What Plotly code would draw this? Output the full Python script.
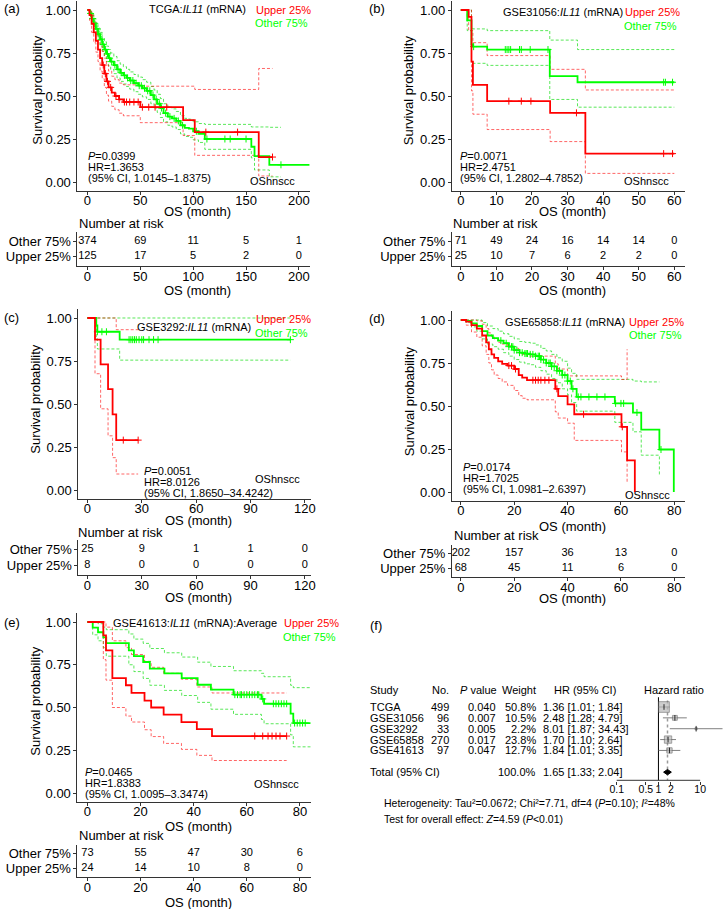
import plotly.graph_objects as go

W, H = 728, 909
FONT = "Liberation Sans, Arial, sans-serif"
RED, GREEN = "#FF0000", "#00FF00"
RED_CI, GREEN_CI = "rgba(255,0,0,0.6)", "rgba(0,220,0,0.65)"

# ---------------- data: (a) TCGA ----------------
A_RED_T = [0, 2, 4, 6, 8, 10, 12, 14, 16, 18, 20, 23, 26, 30, 34, 50, 90.5, 101.5, 162, 175]
A_RED_S = [1.0, 0.97, 0.92, 0.87, 0.82, 0.77, 0.72, 0.68, 0.63, 0.585, 0.55, 0.52, 0.50, 0.48, 0.465, 0.435, 0.36, 0.29, 0.145, 0.145]
A_RED_U = [1.0, 1.0, 0.97, 0.93, 0.89, 0.85, 0.80, 0.76, 0.72, 0.68, 0.645, 0.615, 0.595, 0.575, 0.565, 0.557, 0.557, 0.538, 0.66, 0.66]
A_RED_L = [1.0, 0.94, 0.87, 0.81, 0.755, 0.70, 0.645, 0.60, 0.55, 0.505, 0.47, 0.44, 0.42, 0.40, 0.385, 0.345, 0.27, 0.155, 0.035, 0.035]
A_RED_C = [15, 17, 19, 22, 27, 30, 35, 37, 40, 44, 48, 52, 58, 64, 75, 112, 142, 175]
A_GRN_T = [0, 2, 4, 6, 8, 10, 12, 14, 16, 18, 20, 22, 25, 28, 31, 34, 37, 40, 44, 48, 52, 56, 60, 63, 66, 69, 72, 76, 80, 84, 88, 92, 96, 100, 105, 111, 155, 158, 172, 183, 210]
A_GRN_S = [1.0, 0.98, 0.95, 0.92, 0.89, 0.86, 0.83, 0.80, 0.77, 0.745, 0.72, 0.70, 0.68, 0.655, 0.635, 0.62, 0.605, 0.59, 0.575, 0.56, 0.545, 0.53, 0.505, 0.48, 0.455, 0.43, 0.40, 0.38, 0.37, 0.355, 0.33, 0.315, 0.31, 0.295, 0.28, 0.25, 0.205, 0.15, 0.10, 0.10, 0.10]
A_GRN_U = [1.0, 0.995, 0.975, 0.95, 0.925, 0.895, 0.87, 0.84, 0.815, 0.79, 0.77, 0.75, 0.73, 0.705, 0.685, 0.67, 0.655, 0.64, 0.625, 0.61, 0.595, 0.58, 0.555, 0.535, 0.51, 0.485, 0.455, 0.435, 0.425, 0.41, 0.385, 0.37, 0.365, 0.35, 0.34, 0.335, 0.32, 0.32, 0.318, 0.318, None]
A_GRN_L = [1.0, 0.965, 0.925, 0.89, 0.855, 0.825, 0.79, 0.76, 0.73, 0.70, 0.675, 0.655, 0.63, 0.605, 0.585, 0.57, 0.555, 0.54, 0.525, 0.51, 0.495, 0.48, 0.455, 0.43, 0.405, 0.375, 0.35, 0.33, 0.32, 0.305, 0.28, 0.265, 0.26, 0.245, 0.23, 0.19, 0.14, 0.07, 0.03, 0.03, None]
A_GRN_C = [3, 5, 7, 9, 11, 13, 15, 17, 19, 21, 23, 26, 29, 32, 35, 38, 41, 43, 46, 49, 51, 54, 57, 59, 62, 65, 68, 70, 74, 78, 82, 86, 90, 103, 113, 130, 135, 150, 183]

# ---------------- (b) GSE31056 ----------------
B_RED_T = [0, 2.2, 3.0, 3.4, 7.4, 25.1, 35.0, 60]
B_RED_S = [1.0, 0.96, 0.70, 0.565, 0.47, 0.402, 0.165, 0.165]
B_RED_U = [1.0, 1.0, 0.88, 0.81, 0.735, 0.655, 0.535, 0.535]
B_RED_L = [1.0, 0.88, 0.53, 0.394, 0.305, 0.235, 0.05, 0.05]
B_RED_C = [13.5, 17, 19.7, 32.5, 57, 59.5]
B_GRN_T = [0, 1.8, 3.0, 3.4, 7.4, 25.0, 32.8, 60]
B_GRN_S = [1.0, 0.94, 0.80, 0.787, 0.77, 0.615, 0.58, 0.58]
B_GRN_U = [1.0, 1.0, 0.893, 0.89, 0.88, 0.825, 0.77, 0.77]
B_GRN_L = [1.0, 0.88, 0.70, 0.69, 0.678, 0.48, 0.435, 0.435]
B_GRN_C = [3.6, 12.5, 13, 13.5, 14, 16.5, 17, 19.5, 24.5, 57, 57.5, 59.5]

# ---------------- (c) GSE3292 ----------------
C_RED_T = [0, 4.2, 7.3, 11.4, 13.9, 15.9, 28]
C_RED_S = [1.0, 0.874, 0.73, 0.586, 0.44, 0.29, 0.29]
C_RED_U = [1.0, 1.0, 1.0, 1.0, 1.0, 0.932, 0.932]
C_RED_L = [1.0, 0.676, 0.472, 0.315, 0.188, 0.093, 0.093]
C_RED_C = [19.8, 28]
C_GRN_T = [0, 4.9, 5.5, 17.8, 112]
C_GRN_S = [1.0, 0.957, 0.92, 0.874, 0.874]
C_GRN_U = [1.0, 1.0, 1.0, 1.0, 1.0]
C_GRN_L = [1.0, 0.88, 0.82, 0.755, 0.755]
C_GRN_C = [5.5, 8, 10.5, 23, 24, 25, 26, 27, 28.5, 30, 31, 34, 36.5, 39, 112]

# ---------------- (d) GSE65858 ----------------
D_RED_T = [0, 2, 4, 6, 8, 9.5, 10.5, 11.5, 12.5, 14, 15.5, 17.5, 20, 21.7, 23, 24.8, 35.4, 36.5, 40, 42.5, 60.2, 62.3, 65.2]
D_RED_S = [1.0, 0.99, 0.97, 0.95, 0.91, 0.87, 0.83, 0.80, 0.78, 0.76, 0.745, 0.735, 0.715, 0.68, 0.665, 0.65, 0.60, 0.557, 0.51, 0.452, 0.379, 0.184, 0.0]
D_RED_U = [1.0, 1.0, 1.0, 0.995, 0.975, 0.95, 0.925, 0.905, 0.89, 0.87, 0.86, 0.85, 0.835, 0.81, 0.80, 0.79, 0.745, 0.715, 0.675, 0.675, 0.654, 0.83, None]
D_RED_L = [1.0, 0.97, 0.93, 0.90, 0.85, 0.80, 0.75, 0.71, 0.68, 0.66, 0.64, 0.62, 0.59, 0.56, 0.545, 0.536, 0.466, 0.43, 0.40, 0.30, 0.233, 0.049, None]
D_RED_C = [18, 19, 20.5, 27, 28, 29, 30, 31.5, 33, 36, 46, 60.5]
D_GRN_T = [0, 2, 4, 6, 8, 10, 12, 14, 16, 18, 20, 22, 24, 26, 28, 30, 32, 34, 36, 38, 40, 41.5, 43.4, 57.7, 64.5, 67.6, 74.4, 79.8]
D_GRN_S = [1.0, 0.995, 0.98, 0.965, 0.935, 0.91, 0.895, 0.88, 0.865, 0.845, 0.825, 0.81, 0.805, 0.80, 0.79, 0.77, 0.75, 0.73, 0.705, 0.68, 0.645, 0.60, 0.553, 0.515, 0.462, 0.363, 0.247, 0.0]
D_GRN_U = [1.0, 1.0, 1.0, 1.0, 0.985, 0.965, 0.95, 0.935, 0.92, 0.905, 0.89, 0.875, 0.87, 0.865, 0.855, 0.835, 0.82, 0.80, 0.78, 0.76, 0.72, 0.69, 0.655, 0.655, 0.645, 0.64, 0.64, None]
D_GRN_L = [1.0, 0.985, 0.96, 0.935, 0.89, 0.86, 0.845, 0.83, 0.81, 0.79, 0.77, 0.755, 0.745, 0.74, 0.725, 0.705, 0.685, 0.66, 0.635, 0.60, 0.565, 0.52, 0.47, 0.405, 0.35, 0.214, 0.097, None]
D_GRN_C = [15, 17, 18, 19, 19.5, 20, 21, 22, 23, 24, 24.5, 25, 26, 27, 28, 29, 29.5, 30, 31, 32, 33, 33.5, 34, 35, 36, 37, 38, 39, 40, 41, 42, 44, 45, 48, 51, 54, 58, 60, 61, 66, 75]

# ---------------- (e) GSE41613 ----------------
E_RED_T = [0, 6, 7, 9.4, 14.5, 16.6, 21.5, 24, 28.7, 35.4, 41.2, 46.9, 75]
E_RED_S = [1.0, 0.922, 0.834, 0.672, 0.63, 0.585, 0.54, 0.50, 0.458, 0.415, 0.374, 0.333, 0.333]
E_RED_U = [1.0, 1.0, 0.97, 0.89, 0.85, 0.81, 0.77, 0.735, 0.70, 0.665, 0.62, 0.585, 0.585]
E_RED_L = [1.0, 0.78, 0.66, 0.50, 0.45, 0.415, 0.37, 0.33, 0.29, 0.255, 0.22, 0.19, 0.19]
E_RED_C = [63, 66, 68, 69.5, 71, 72.5, 75]
E_GRN_T = [0, 2, 4, 6, 7.1, 15.6, 17.5, 21, 23.5, 29, 35.5, 41.5, 46.5, 55, 65.5, 66.5, 76.5, 77.5, 84]
E_GRN_S = [1.0, 0.967, 0.94, 0.91, 0.877, 0.834, 0.80, 0.766, 0.727, 0.70, 0.672, 0.633, 0.604, 0.575, 0.55, 0.522, 0.464, 0.409, 0.409]
E_GRN_U = [1.0, 1.0, 0.99, 0.97, 0.955, 0.93, 0.90, 0.875, 0.845, 0.82, 0.795, 0.765, 0.74, 0.715, 0.70, 0.68, 0.63, 0.616, 0.616]
E_GRN_L = [1.0, 0.925, 0.89, 0.85, 0.80, 0.75, 0.71, 0.67, 0.63, 0.60, 0.57, 0.53, 0.49, 0.46, 0.43, 0.405, 0.34, 0.27, 0.27]
E_GRN_C = [55.5, 56.5, 57.5, 58, 59, 60, 61, 62, 63, 64, 64.5, 66, 70, 71, 72, 73, 74, 75, 78, 79, 80, 81, 82]

# ---------------- risk tables ----------------
A_TICKS = [0, 50, 100, 150, 200]
A_RISK_OTHER = [374, 69, 11, 5, 1]
A_RISK_UPPER = [125, 17, 5, 2, 0]
B_TICKS = [0, 10, 20, 30, 40, 50, 60]
B_RISK_OTHER = [71, 49, 24, 16, 14, 14, 0]
B_RISK_UPPER = [25, 10, 7, 6, 2, 2, 0]
C_TICKS = [0, 30, 60, 90, 120]
C_RISK_OTHER = [25, 9, 1, 1, 0]
C_RISK_UPPER = [8, 0, 0, 0, 0]
D_TICKS = [0, 20, 40, 60, 80]
D_RISK_OTHER = [202, 157, 36, 13, 0]
D_RISK_UPPER = [68, 45, 11, 6, 0]
E_TICKS = [0, 20, 40, 60, 80]
E_RISK_OTHER = [73, 55, 47, 30, 6]
E_RISK_UPPER = [24, 14, 10, 8, 0]

Y_TICKS = [0, 0.25, 0.5, 0.75, 1.0]
Y_TICKTEXT = ["0.00", "0.25", "0.50", "0.75", "1.00"]

# ---------------- (f) meta-analysis ----------------
STUDIES = ["TCGA", "GSE31056", "GSE3292", "GSE65858", "GSE41613"]
N_PAT = [499, 96, 33, 270, 97]
PVALS = ["0.040", "0.007", "0.005", "0.017", "0.047"]
WEIGHTS = [50.8, 10.5, 2.2, 23.8, 12.7]
HRS = [1.36, 2.48, 8.01, 1.70, 1.84]
HR_LO = [1.01, 1.28, 1.87, 1.10, 1.01]
HR_HI = [1.84, 4.79, 34.43, 2.64, 3.35]
TOTAL_HR, TOTAL_LO, TOTAL_HI = 1.65, 1.33, 2.04
FOREST_TICKS = [0.1, 0.5, 1, 2, 10]

PANELS = [
    dict(letter="(a)", title="TCGA:<i>IL11</i> (mRNA)",
         red=(A_RED_T, A_RED_S, A_RED_U, A_RED_L, A_RED_C), grn=(A_GRN_T, A_GRN_S, A_GRN_U, A_GRN_L, A_GRN_C),
         ticks=A_TICKS, risk=(A_RISK_OTHER, A_RISK_UPPER),
         stats=("0.0399", "1.3653", "1.0145–1.8375")),
    dict(letter="(b)", title="GSE31056:<i>IL11</i> (mRNA)",
         red=(B_RED_T, B_RED_S, B_RED_U, B_RED_L, B_RED_C), grn=(B_GRN_T, B_GRN_S, B_GRN_U, B_GRN_L, B_GRN_C),
         ticks=B_TICKS, risk=(B_RISK_OTHER, B_RISK_UPPER),
         stats=("0.0071", "2.4751", "1.2802–4.7852")),
    dict(letter="(c)", title="GSE3292:<i>IL11</i> (mRNA)",
         red=(C_RED_T, C_RED_S, C_RED_U, C_RED_L, C_RED_C), grn=(C_GRN_T, C_GRN_S, C_GRN_U, C_GRN_L, C_GRN_C),
         ticks=C_TICKS, risk=(C_RISK_OTHER, C_RISK_UPPER),
         stats=("0.0051", "8.0126", "1.8650–34.4242")),
    dict(letter="(d)", title="GSE65858:<i>IL11</i> (mRNA)",
         red=(D_RED_T, D_RED_S, D_RED_U, D_RED_L, D_RED_C), grn=(D_GRN_T, D_GRN_S, D_GRN_U, D_GRN_L, D_GRN_C),
         ticks=D_TICKS, risk=(D_RISK_OTHER, D_RISK_UPPER),
         stats=("0.0174", "1.7025", "1.0981–2.6397")),
    dict(letter="(e)", title="GSE41613:<i>IL11</i> (mRNA):Average",
         red=(E_RED_T, E_RED_S, E_RED_U, E_RED_L, E_RED_C), grn=(E_GRN_T, E_GRN_S, E_GRN_U, E_GRN_L, E_GRN_C),
         ticks=E_TICKS, risk=(E_RISK_OTHER, E_RISK_UPPER),
         stats=("0.0465", "1.8383", "1.0095–3.3474")),
]

# ---------------- layout geometry (pixels) ----------------
GEOM = [
    dict(p0=88, k=1.065, left=78, right=312, ytop=10, ybot=182, tab=(232, 266),
         letter=(2, 8), ytitle=(38, 90), xt1=212, tabtitle=(78, 223), xt2=290,
         title=(250, 9), upper=(315, 10), other=(312, 23), stats=(87, 156), os=(299, 181)),
    dict(p0=464, k=3.583, left=455, right=690, ytop=10, ybot=182, tab=(232, 266),
         letter=(370, 8), ytitle=(412, 90), xt1=212, tabtitle=(454, 223), xt2=290,
         title=(629, 12), upper=(687, 12), other=(684, 26), stats=(461, 156), os=(676, 181)),
    dict(p0=88, k=1.825, left=79, right=313, ytop=318, ybot=490, tab=(540, 575),
         letter=(2, 317), ytitle=(35, 399), xt1=520, tabtitle=(77, 532), xt2=597,
         title=(255, 327), upper=(315, 319), other=(312, 333), stats=(143, 471), os=(304, 479)),
    dict(p0=464, k=2.6875, left=455, right=690, ytop=320, ybot=492, tab=(545, 577),
         letter=(370, 318), ytitle=(412, 401), xt1=526, tabtitle=(455, 535), xt2=598,
         title=(631, 322), upper=(691, 322), other=(689, 335), stats=(464, 467), os=(677, 495)),
    dict(p0=88, k=2.675, left=78, right=313, ytop=622, ybot=793, tab=(845, 877),
         letter=(2, 622), ytitle=(35, 701), xt1=826, tabtitle=(78, 835), xt2=902,
         title=(281, 623), upper=(343, 623), other=(340, 637), stats=(84, 772), os=(303, 784)),
]


def fx(p):
    return p / W


def fy(p):
    return 1 - p / H


def step_at(T, S, t):
    val = S[0]
    for ti, si in zip(T, S):
        if ti <= t:
            val = si
        else:
            break
    return val


fig = go.Figure()
layout = {}
annots = []


def ax_name(n):
    return ("x" if n == 1 else f"x{n}"), ("y" if n == 1 else f"y{n}")


def lay_name(n):
    return ("xaxis" if n == 1 else f"xaxis{n}"), ("yaxis" if n == 1 else f"yaxis{n}")


AXIS_BASE = dict(showline=True, linecolor="#333333", linewidth=1, ticks="outside", ticklen=3,
                 tickcolor="#333333", tickwidth=1, showgrid=False, zeroline=False,
                 tickfont=dict(family=FONT, size=13, color="black"))
XAXIS_BASE = dict(AXIS_BASE, ticklabelstandoff=-5, tickangle=0)


def ann(text, x, y, xanchor="left", size=11, color="black", angle=0, yref="paper", xref="paper"):
    annots.append(dict(text=text, x=x if xref != "paper" else fx(x), y=y if yref != "paper" else fy(y),
                       xref=xref, yref=yref, xanchor=xanchor, yanchor="middle", showarrow=False,
                       textangle=angle, font=dict(family=FONT, size=size, color=color)))


for i, (P, G) in enumerate(zip(PANELS, GEOM)):
    n_plot, n_tab = 2 * i + 1, 2 * i + 2
    xa, ya = ax_name(n_plot)
    xt, yt = ax_name(n_tab)
    lx, ly = lay_name(n_plot)
    ltx, lty = lay_name(n_tab)
    xr = [(G["left"] - G["p0"]) / G["k"], (G["right"] - G["p0"]) / G["k"]]
    ky = G["ybot"] - G["ytop"]
    layout[lx] = dict(XAXIS_BASE, domain=[fx(G["left"]), fx(G["right"])], range=xr, anchor=ya,
                      tickvals=P["ticks"])
    layout[ly] = dict(AXIS_BASE, domain=[fy(G["ybot"] + 0.05 * ky), fy(G["ytop"] - 0.05 * ky)],
                      range=[-0.05, 1.05], anchor=xa, tickvals=Y_TICKS, ticktext=Y_TICKTEXT)
    layout[ltx] = dict(XAXIS_BASE, domain=[fx(G["left"]), fx(G["right"])], range=xr, anchor=yt,
                       tickvals=P["ticks"])
    layout[lty] = dict(AXIS_BASE, domain=[fy(G["tab"][1]), fy(G["tab"][0])], range=[0.4, 2.6],
                       anchor=xt, tickvals=[1, 2], ticktext=["Upper 25%", "Other 75%"])

    for (T, S, U, L, C), col, cicol in ((P["grn"], GREEN, GREEN_CI), (P["red"], RED, RED_CI)):
        for band in (U, L):
            fig.add_trace(go.Scatter(x=T, y=band, mode="lines", xaxis=xa, yaxis=ya, hoverinfo="skip",
                                     line=dict(color=cicol, width=1, dash="3px,2px", shape="hv")))
    for (T, S, U, L, C), col in ((P["grn"], GREEN), (P["red"], RED)):
        fig.add_trace(go.Scatter(x=T, y=S, mode="lines", xaxis=xa, yaxis=ya,
                                 line=dict(color=col, width=1.8, shape="hv")))
        fig.add_trace(go.Scatter(x=C, y=[step_at(T, S, t) for t in C], mode="markers", xaxis=xa, yaxis=ya,
                                 marker=dict(symbol="cross-thin", size=5, line=dict(color=col, width=1))))

    other, upper = P["risk"]
    fig.add_trace(go.Scatter(x=P["ticks"], y=[2] * len(other), text=[str(v) for v in other], mode="text",
                             xaxis=xt, yaxis=yt, cliponaxis=False,
                             textfont=dict(family=FONT, size=11, color="black")))
    fig.add_trace(go.Scatter(x=P["ticks"], y=[1] * len(upper), text=[str(v) for v in upper], mode="text",
                             xaxis=xt, yaxis=yt, cliponaxis=False,
                             textfont=dict(family=FONT, size=11, color="black")))

    ann(P["letter"], G["letter"][0], G["letter"][1], size=13)
    ann("Survival probability", G["ytitle"][0], G["ytitle"][1], xanchor="center", size=13, angle=-90)
    xmid = (G["left"] + G["right"]) / 2 + 4
    ann("OS (month)", xmid, G["xt1"], xanchor="center", size=13)
    ann("OS (month)", xmid, G["xt2"], xanchor="center", size=13)
    ann("Number at risk", G["tabtitle"][0], G["tabtitle"][1], size=13)
    ann(P["title"], G["title"][0], G["title"][1], xanchor="right", size=11)
    ann("Upper 25%", G["upper"][0], G["upper"][1], xanchor="right", size=11, color=RED)
    ann("Other 75%", G["other"][0], G["other"][1], xanchor="right", size=11, color=GREEN)
    p, hr, ci = P["stats"]
    sx, sy = G["stats"]
    ann(f"<i>P</i>={p}", sx, sy, size=11)
    ann(f"HR={hr}", sx, sy + 11, size=11)
    ann(f"(95% CI, {ci})", sx, sy + 22, size=11)
    ann("OShnscc", G["os"][0], G["os"][1], xanchor="right", size=11)

# ---------------- forest plot (f) ----------------
NF = 11
fxa, fya = ax_name(NF)
flx, fly = lay_name(NF)
ROW_PX = 10.86          # pixels per row
ROW0_PX = 707           # pixel of the first study row
Y_TOP, Y_BOT = -1.75, 6.82
layout[flx] = dict(XAXIS_BASE, type="log", domain=[fx(600), 1.0], range=[-1.5, 1.548], anchor=fya,
                   showline=False, tickvals=FOREST_TICKS, ticktext=[str(v) for v in FOREST_TICKS],
                   tickfont=dict(family=FONT, size=10.5, color="black"))
layout[fly] = dict(domain=[fy(ROW0_PX + Y_BOT * ROW_PX), fy(ROW0_PX + Y_TOP * ROW_PX)],
                   range=[Y_BOT, Y_TOP], anchor=fxa, visible=False)

rows = list(range(len(STUDIES)))
AXIS_ROW = 6.75
fig.add_trace(go.Scatter(x=[1, 1], y=[-0.9, AXIS_ROW], mode="lines", xaxis=fxa, yaxis=fya,
                         line=dict(color="black", width=1)))
fig.add_trace(go.Scatter(x=[TOTAL_HR, TOTAL_HR], y=[-0.6, AXIS_ROW], mode="lines", xaxis=fxa, yaxis=fya,
                         line=dict(color="#9a9a9a", width=1.5, dash="dot")))
fig.add_trace(go.Scatter(x=[min(FOREST_TICKS), max(FOREST_TICKS)], y=[AXIS_ROW, AXIS_ROW], mode="lines",
                         xaxis=fxa, yaxis=fya, line=dict(color="#333333", width=1)))
for r in rows:
    fig.add_trace(go.Scatter(x=[HR_LO[r], HR_HI[r]], y=[r, r], mode="lines", xaxis=fxa, yaxis=fya,
                             line=dict(color="#808080", width=1)))
fig.add_trace(go.Scatter(x=HRS, y=rows, mode="markers", xaxis=fxa, yaxis=fya,
                         marker=dict(symbol="square", size=[1.5 * w ** 0.5 for w in WEIGHTS],
                                     color="#b8b8b8", line=dict(color="#606060", width=0.8))))
fig.add_trace(go.Scatter(x=HRS, y=rows, mode="markers", xaxis=fxa, yaxis=fya,
                         marker=dict(symbol="line-ns", size=4, line=dict(color="black", width=0.8))))
fig.add_trace(go.Scatter(x=[TOTAL_LO, TOTAL_HR, TOTAL_HI, TOTAL_HR, TOTAL_LO], y=[6, 5.75, 6, 6.25, 6],
                         mode="lines", fill="toself", fillcolor="black", xaxis=fxa, yaxis=fya,
                         line=dict(color="black", width=1)))

yr = "y11"


def fann(text, x, row, xanchor="left", size=11):
    ann(text, x, row, xanchor=xanchor, size=size, yref=yr)


HEAD = -1.55
fann("Study", 371, HEAD)
fann("No.", 454, HEAD, "right")
fann("<i>P</i> value", 482, HEAD, "center")
fann("Weight", 542, HEAD, "right")
fann("HR (95% CI)", 589, HEAD, "center")
fann("Hazard ratio", 679, HEAD, "center")
for r in rows:
    fann(STUDIES[r], 371, r)
    fann(str(N_PAT[r]), 454, r, "right")
    fann(PVALS[r], 485, r, "center")
    fann(f"{WEIGHTS[r]:.1f}%", 542, r, "right")
    fann(f"{HRS[r]:.2f} [{HR_LO[r]:.2f}; {HR_HI[r]:.2f}]", 545, r)
fann("Total (95% CI)", 371, 6)
fann(f"{sum(WEIGHTS):.1f}%", 542, 6, "right")
fann(f"{TOTAL_HR:.2f} [{TOTAL_LO:.2f}; {TOTAL_HI:.2f}]", 545, 6)
ann("(f)", 371, 625, size=13)
ann("Heterogeneity: Tau²=0.0672; Chi²=7.71, df=4 (<i>P</i>=0.10); <i>I</i>²=48%", 385, 803, size=10.5)
ann("Test for overall effect: <i>Z</i>=4.59 (<i>P</i>&lt;0.01)", 385, 819, size=10.5)

fig.update_layout(width=W, height=H, margin=dict(l=0, r=0, t=0, b=0), showlegend=False,
                  paper_bgcolor="white", plot_bgcolor="white", annotations=annots,
                  font=dict(family=FONT, color="black"), **layout)
fig.write_html("out.html", config={"displayModeBar": False},
               post_script="document.body.style.margin='0';document.body.style.overflow='hidden';")
